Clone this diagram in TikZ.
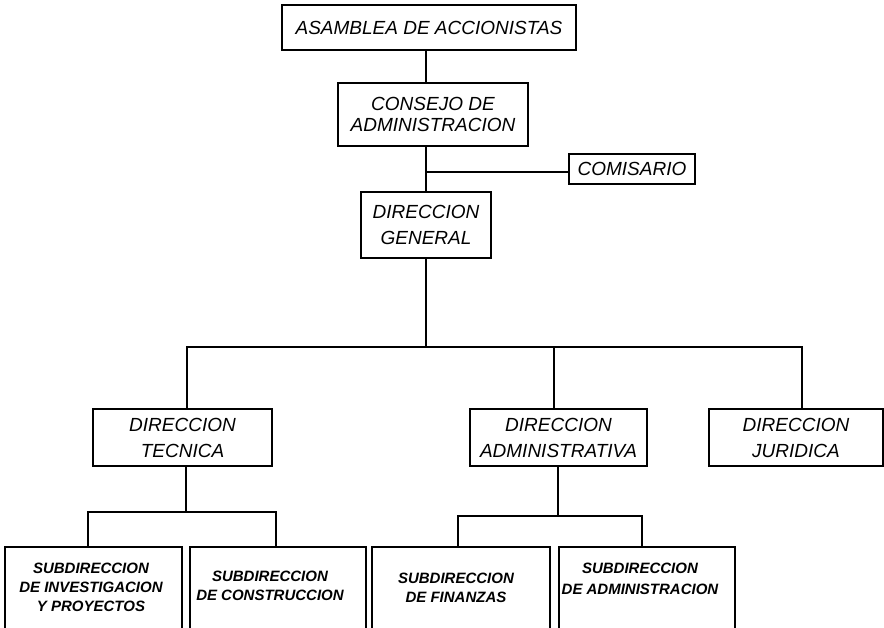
\documentclass[tikz,border=0pt]{standalone}
\usepackage{fontspec}
\setmainfont{Liberation Sans}
\begin{document}
\begin{tikzpicture}[x=1pt,y=-1pt,
  box/.style={draw, line width=1.4pt, inner sep=0pt, align=center,
    font=\fontsize{19}{26}\selectfont\itshape},
  tight/.style={font=\fontsize{19}{21.5}\selectfont\itshape},
  subbox/.style={draw, line width=1.4pt, inner sep=0pt},
  subtext/.style={inner sep=0pt, align=center,
    font=\fontsize{15}{19}\selectfont\bfseries\itshape},
  link/.style={line width=1.3pt}]
\useasboundingbox (0,0) rectangle (884,628);
\clip (0,0) rectangle (884,628);

% top levels
\node[box, minimum width=294pt, minimum height=45pt] (asamblea) at (429,27.5) {ASAMBLEA DE ACCIONISTAS};
\node[box, tight, minimum width=190pt, minimum height=63pt] (consejo) at (433,114.5) {CONSEJO DE\\ADMINISTRACION};
\node[box, minimum width=126pt, minimum height=30pt] (comisario) at (632,169) {COMISARIO};
\node[box, minimum width=130pt, minimum height=66pt] (dg) at (426,225) {DIRECCION\\GENERAL};

% directions
\node[box, minimum width=179pt, minimum height=57pt] (dt) at (182.5,437.5) {DIRECCION\\TECNICA};
\node[box, minimum width=177pt, minimum height=57pt] (da) at (558.5,437.5) {DIRECCION\\ADMINISTRATIVA};
\node[box, minimum width=174pt, minimum height=57pt] (dj) at (796,437.5) {DIRECCION\\JURIDICA};

% sub-directions (boxes run past the lower edge)
\node[subbox, minimum width=177pt, minimum height=153pt] (s1) at (93.5,623.5) {};
\node[subbox, minimum width=176pt, minimum height=153pt] (s2) at (278,623.5) {};
\node[subbox, minimum width=178pt, minimum height=153pt] (s3) at (461,623.5) {};
\node[subbox, minimum width=176pt, minimum height=153pt] (s4) at (647,623.5) {};
\node[subtext] (t1) at (91,587.5) {SUBDIRECCION\\DE INVESTIGACION\\Y PROYECTOS};
\node[subtext] (t2) at (270,585.5) {SUBDIRECCION\\DE CONSTRUCCION};
\node[subtext] (t3) at (456,587.5) {SUBDIRECCION\\DE FINANZAS};
\node[subtext, font=\fontsize{15}{21}\selectfont\bfseries\itshape] (t4) at (640,579) {SUBDIRECCION\\DE ADMINISTRACION};

% junction points
\coordinate (cj) at (426,172);
\coordinate (busL) at (187,347);
\coordinate (busM) at (554,347);
\coordinate (busR) at (802,347);
\coordinate (tb) at (186,512);
\coordinate (tbL) at (88,512);
\coordinate (tbR) at (276,512);
\coordinate (ab) at (558,516);
\coordinate (abL) at (458,516);
\coordinate (abR) at (642,516);

% connectors
\draw[link] (asamblea.south -| cj) -- (consejo.north -| cj);
\draw[link] (consejo.south -| cj) -- (dg.north -| cj);
\draw[link] (cj) -- (cj -| comisario.west);
\draw[link] (dg.south -| cj) -- (cj |- busL);
\draw[link] (dt.north -| busL) -- (busL) -- (busR) -- (dj.north -| busR);
\draw[link] (busM) -- (da.north -| busM);
\draw[link] (dt.south -| tb) -- (tb);
\draw[link] (s1.north -| tbL) -- (tbL) -- (tbR) -- (s2.north -| tbR);
\draw[link] (da.south -| ab) -- (ab);
\draw[link] (s3.north -| abL) -- (abL) -- (abR) -- (s4.north -| abR);
\end{tikzpicture}
\end{document}
